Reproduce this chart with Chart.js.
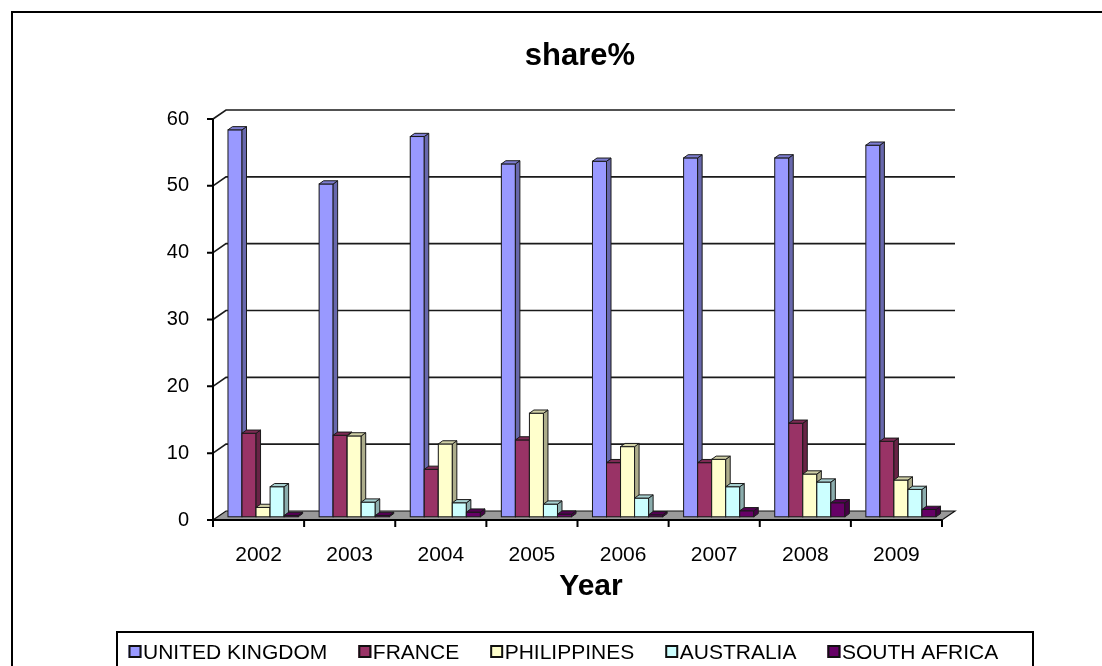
<!DOCTYPE html>
<html><head><meta charset="utf-8">
<script src="https://cdn.jsdelivr.net/npm/chart.js@4.4.1/dist/chart.umd.min.js"></script>
<style>html,body{margin:0;padding:0;background:#fff;overflow:hidden}canvas{display:block}</style>
</head><body>
<canvas id="c" width="1102" height="666"></canvas>
<script>
const categories = ['2002','2003','2004','2005','2006','2007','2008','2009'];
const seriesNames = ['UNITED KINGDOM','FRANCE','PHILIPPINES','AUSTRALIA','SOUTH AFRICA'];
const ukValues = [57.9, 49.8, 56.9, 52.8, 53.2, 53.7, 53.7, 55.6];
const franceValues = [12.5, 12.2, 7.1, 11.5, 8.1, 8.1, 14.0, 11.3];
const philippinesValues = [1.4, 12.1, 10.9, 15.5, 10.5, 8.6, 6.4, 5.5];
const australiaValues = [4.5, 2.2, 2.1, 1.9, 2.8, 4.5, 5.2, 4.1];
const southAfricaValues = [0.2, 0.2, 0.7, 0.4, 0.3, 0.9, 2.1, 1.1];
const seriesColors = ['#9999FF','#993366','#FFFFCC','#CCFFFF','#660066'];
const yMin = 0, yMax = 60, yStep = 10;
const chartTitle = 'share%';
const xAxisTitle = 'Year';

const FONT = '"Liberation Sans", Arial, sans-serif';
const WALL = {dx: 13, dy: -9};
const BAR_SHIFT = {dx: 4.5, dy: -3.2};
const BAR_DEPTH = {dx: 4.5, dy: -3.2};

function shade(hex, f) {
  const n = parseInt(hex.slice(1), 16);
  const r = Math.round(((n >> 16) & 255) * f), g = Math.round(((n >> 8) & 255) * f), b = Math.round((n & 255) * f);
  return `rgb(${r},${g},${b})`;
}

const allValues = [ukValues, franceValues, philippinesValues, australiaValues, southAfricaValues];

const threeD = {
  id: 'threeD',
  beforeDraw(chart) {
    const ctx = chart.ctx;
    ctx.save();
    ctx.fillStyle = '#fff';
    ctx.fillRect(0, 0, chart.width, chart.height);
    ctx.restore();
  },
  beforeDatasetsDraw(chart) {
    const {ctx, chartArea: a, scales: {y}} = chart;
    ctx.save();
    // floor
    ctx.beginPath();
    ctx.moveTo(a.left, a.bottom);
    ctx.lineTo(a.right, a.bottom);
    ctx.lineTo(a.right + WALL.dx, a.bottom + WALL.dy);
    ctx.lineTo(a.left + WALL.dx, a.bottom + WALL.dy);
    ctx.closePath();
    ctx.fillStyle = '#999999';
    ctx.fill();
    ctx.strokeStyle = '#111';
    ctx.lineWidth = 1.2;
    ctx.stroke();
    // wall gridlines
    ctx.strokeStyle = '#1a1a1a';
    ctx.lineWidth = 1.6;
    y.ticks.forEach(t => {
      if (t.value === yMin) return;
      const py = y.getPixelForValue(t.value);
      ctx.beginPath();
      ctx.moveTo(a.left, py);
      ctx.lineTo(a.left + WALL.dx, py + WALL.dy);
      ctx.lineTo(a.right + WALL.dx, py + WALL.dy);
      ctx.stroke();
    });
    // y axis + ticks
    ctx.lineWidth = 2;
    ctx.strokeStyle = '#000';
    ctx.beginPath();
    ctx.moveTo(a.left, y.getPixelForValue(yMax));
    ctx.lineTo(a.left, y.getPixelForValue(yMin));
    y.ticks.forEach(t => {
      const py = y.getPixelForValue(t.value);
      ctx.moveTo(a.left - 6, py);
      ctx.lineTo(a.left, py);
    });
    ctx.stroke();
    // x axis front edge + ticks
    const n = categories.length;
    ctx.beginPath();
    ctx.moveTo(a.left, a.bottom);
    ctx.lineTo(a.right, a.bottom);
    for (let i = 0; i <= n; i++) {
      const px = a.left + i * (a.right - a.left) / n;
      ctx.moveTo(px, a.bottom);
      ctx.lineTo(px, a.bottom + 7);
    }
    ctx.stroke();
    ctx.restore();
  },
  beforeDatasetDraw(chart) {
    chart.ctx.save();
    chart.ctx.translate(BAR_SHIFT.dx, BAR_SHIFT.dy);
  },
  afterDatasetDraw(chart) {
    chart.ctx.restore();
  },
  afterDatasetsDraw(chart) {
    const ctx = chart.ctx;
    ctx.save();
    ctx.translate(BAR_SHIFT.dx, BAR_SHIFT.dy);
    ctx.lineWidth = 1;
    ctx.strokeStyle = '#1a1a1a';
    chart.data.datasets.forEach((ds, di) => {
      const meta = chart.getDatasetMeta(di);
      const col = ds.backgroundColor;
      meta.data.forEach(el => {
        const p = el.getProps(['x', 'y', 'base', 'width'], true);
        const l = p.x - p.width / 2, r = p.x + p.width / 2;
        const t = Math.min(p.y, p.base), b = Math.max(p.y, p.base);
        // front
        ctx.fillStyle = col;
        ctx.fillRect(l, t, r - l, b - t);
        ctx.strokeRect(l, t, r - l, b - t);
        // side
        ctx.beginPath();
        ctx.moveTo(r, t);
        ctx.lineTo(r + BAR_DEPTH.dx, t + BAR_DEPTH.dy);
        ctx.lineTo(r + BAR_DEPTH.dx, b + BAR_DEPTH.dy);
        ctx.lineTo(r, b);
        ctx.closePath();
        ctx.fillStyle = shade(col, 0.68);
        ctx.fill();
        ctx.stroke();
        // top
        ctx.beginPath();
        ctx.moveTo(l, t);
        ctx.lineTo(l + BAR_DEPTH.dx, t + BAR_DEPTH.dy);
        ctx.lineTo(r + BAR_DEPTH.dx, t + BAR_DEPTH.dy);
        ctx.lineTo(r, t);
        ctx.closePath();
        ctx.fillStyle = shade(col, 0.82);
        ctx.fill();
        ctx.stroke();
      });
    });
    ctx.restore();
  },
  afterDraw(chart) {
    const ctx = chart.ctx;
    ctx.save();
    // outer border
    ctx.strokeStyle = '#000';
    ctx.lineWidth = 2;
    ctx.strokeRect(12, 12, 1200, 800);
    // title
    ctx.fillStyle = '#000';
    ctx.textAlign = 'center';
    ctx.textBaseline = 'alphabetic';
    ctx.font = 'bold 31px ' + FONT;
    ctx.fillText(chartTitle, 580, 65);
    ctx.font = 'bold 30px ' + FONT;
    ctx.fillText(xAxisTitle, 591, 595);
    // legend
    ctx.lineWidth = 2;
    ctx.strokeRect(117, 632, 916, 100);
    ctx.font = '21px ' + FONT;
    ctx.textAlign = 'left';
    let x = 128.5;
    chart.data.datasets.forEach((ds, i) => {
      ctx.fillStyle = ds.backgroundColor;
      ctx.fillRect(x, 645, 13, 13);
      ctx.lineWidth = 2;
      ctx.strokeStyle = '#111';
      ctx.strokeRect(x + 1, 646, 11, 11);
      ctx.fillStyle = '#000';
      ctx.fillText(ds.label, x + 14.5, 659);
      x += 14.5 + ctx.measureText(ds.label).width + 31;
    });
    ctx.restore();
  }
};

const datasets = seriesNames.map((name, i) => ({
  label: name,
  data: allValues[i],
  backgroundColor: seriesColors[i],
  borderColor: '#1a1a1a',
  borderWidth: 1,
  borderSkipped: false,
  categoryPercentage: 0.77,
  barPercentage: 1.0,
  clip: false
}));

new Chart(document.getElementById('c'), {
  type: 'bar',
  data: {labels: categories, datasets},
  plugins: [threeD],
  options: {
    responsive: false,
    animation: false,
    devicePixelRatio: 1,
    layout: {padding: {top: 119, right: 160, bottom: 0, left: 0}},
    plugins: {legend: {display: false}, title: {display: false}, tooltip: {enabled: false}},
    scales: {
      x: {
        offset: true,
        grid: {display: false, drawTicks: true, tickLength: 6},
        border: {display: false},
        ticks: {color: '#000', font: {family: FONT, size: 21}, padding: 17, maxRotation: 0},
        afterFit(s) { s.height = 146; }
      },
      y: {
        min: yMin, max: yMax,
        grid: {display: false, drawTicks: true, tickLength: 6},
        border: {display: false},
        ticks: {stepSize: yStep, color: '#000', font: {family: FONT, size: 20}, padding: 18},
        afterFit(s) { s.width = 213; }
      }
    }
  }
});
</script>
</body></html>
